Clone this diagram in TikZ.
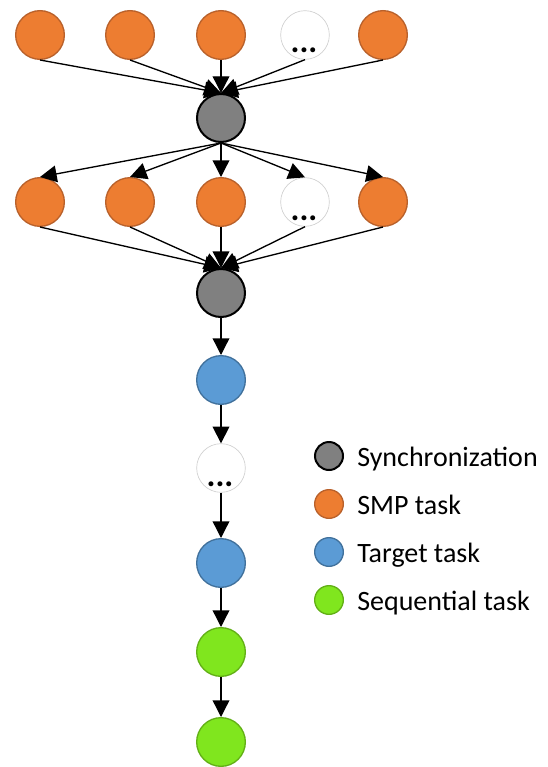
\documentclass[tikz,border=0pt]{standalone}
\usepackage{fontspec}
\setmainfont{Carlito}
\usetikzlibrary{arrows.meta}
\definecolor{smpfill}{HTML}{ED7D31}
\definecolor{smpline}{HTML}{B9612B}
\definecolor{syncfill}{HTML}{808080}
\definecolor{tgtfill}{HTML}{5B9BD5}
\definecolor{tgtline}{HTML}{41719C}
\definecolor{seqfill}{HTML}{80E61E}
\definecolor{seqline}{HTML}{62B016}
\definecolor{dotline}{HTML}{D0D0D0}
\begin{document}
\begin{tikzpicture}[x=0.75pt,y=-0.75pt,
  task/.style={circle,minimum size=36.5pt,inner sep=0pt,line width=1pt},
  smp/.style={task,fill=smpfill,draw=smpline},
  sync/.style={task,fill=syncfill,draw=black,line width=1.5pt,minimum size=36pt},
  tgt/.style={task,fill=tgtfill,draw=tgtline},
  seq/.style={task,fill=seqfill,draw=seqline},
  more/.style={task,fill=white,draw=dotline,line width=0.5pt},
  dots/.style={inner sep=0pt,anchor=base,font=\fontsize{25}{25}\selectfont\bfseries},
  legsize/.style={minimum size=21.5pt},
  legtext/.style={anchor=base west,inner sep=0pt,font=\fontsize{21}{25}\selectfont},
  arr/.style={line width=1pt,-{Triangle[length=12.5pt,width=12.5pt]}},
]
\useasboundingbox (0,0) rectangle (548,767);

% first row of SMP tasks
\node[smp]  (a1) at (40,35)  {};
\node[smp]  (a2) at (130,35) {};
\node[smp]  (a3) at (221,35) {};
\node[more] (a4) at (305,35) {};
\node[dots] (a4d) at (304,53) {...};
\node[smp]  (a5) at (383,35) {};

% first synchronization point
\node[sync] (s1) at (221,118) {};

% second row of SMP tasks
\node[smp]  (b1) at (40,202)  {};
\node[smp]  (b2) at (130,202) {};
\node[smp]  (b3) at (221,202) {};
\node[more] (b4) at (305,202) {};
\node[dots] (b4d) at (304,220) {...};
\node[smp]  (b5) at (383,202) {};

% second synchronization point
\node[sync] (s2) at (221,293) {};

% sequential chain
\node[tgt]  (t1) at (221,380) {};
\node[more] (m1) at (221,468) {};
\node[dots] (m1d) at (220,486) {...};
\node[tgt]  (t2) at (221,563) {};
\node[seq]  (q1) at (221,652) {};
\node[seq]  (q2) at (221,742) {};

% fan-in to s1
\foreach \n in {a1,a2,a3,a4,a5} \draw[arr] (\n.south) -- (s1.north);
% fan-out from s1
\foreach \n in {b1,b2,b3,b4,b5} \draw[arr] (s1.south) -- (\n.north);
% fan-in to s2
\foreach \n in {b1,b2,b3,b4,b5} \draw[arr] (\n.south) -- (s2.north);
% chain
\draw[arr] (s2) -- (t1);
\draw[arr] (t1) -- (m1);
\draw[arr] (m1) -- (t2);
\draw[arr] (t2) -- (q1);
\draw[arr] (q1) -- (q2);

% legend
\node[sync,legsize,minimum size=21pt] (l1) at (329,456) {};
\node[smp,legsize]  (l2) at (329,504) {};
\node[tgt,legsize]  (l3) at (329,552) {};
\node[seq,legsize]  (l4) at (329,600) {};
\node[legtext] (l1t) at (357,466) {Synchronization};
\node[legtext] (l2t) at (357,514) {SMP task};
\node[legtext] (l3t) at (357,562) {Target task};
\node[legtext] (l4t) at (357,610) {Sequential task};
\end{tikzpicture}
\end{document}
